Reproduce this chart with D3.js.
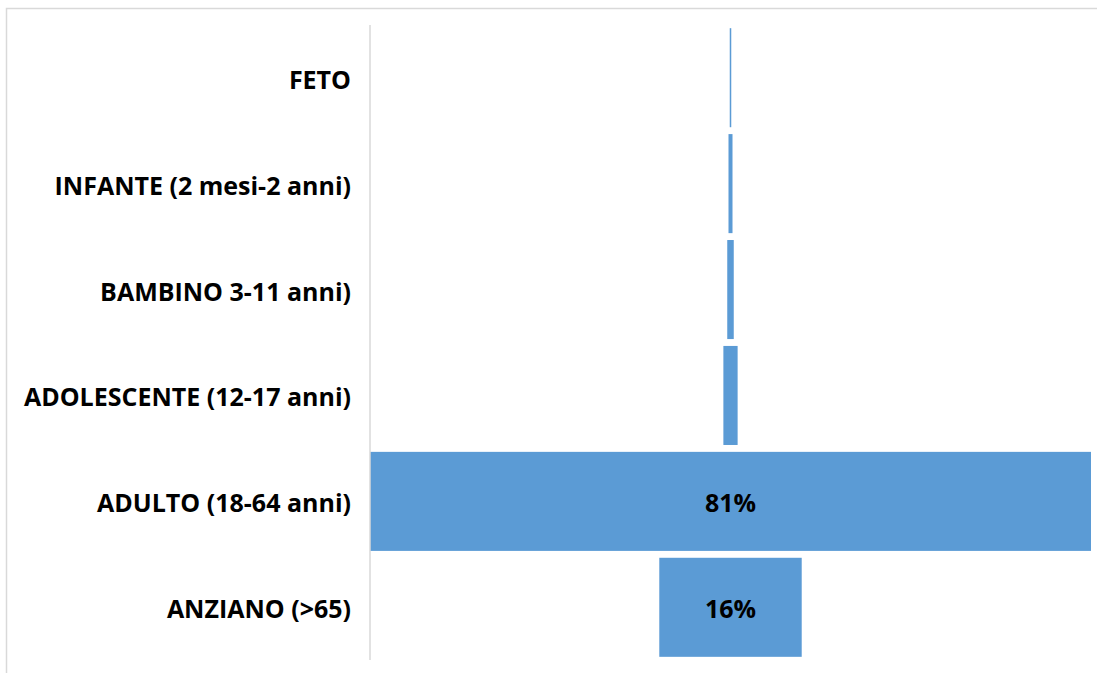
<!DOCTYPE html>
<html>
<head>
<meta charset="utf-8">
<script src="https://cdn.jsdelivr.net/npm/d3@7"></script>
<style>
  html, body { margin: 0; padding: 0; background: #fff; }
  svg { display: block; }
</style>
</head>
<body>
<svg id="chart" width="1097" height="673"></svg>
<script>
// Age groups, top to bottom
const categories = [
  "FETO",
  "INFANTE (2 mesi-2 anni)",
  "BAMBINO 3-11 anni)",
  "ADOLESCENTE (12-17 anni)",
  "ADULTO (18-64 anni)",
  "ANZIANO (>65)"
];
// Share of cases per group (%)
const values = [0.17, 0.45, 0.73, 1.6, 81, 16];
// Data labels shown on the bars
const valueLabels = ["", "", "", "", "81%", "16%"];

const svg = d3.select("#chart");
const W = 1097, H = 673;
const FONT = "'Open Sans', Lato, sans-serif";

// chart frame
svg.append("rect")
  .attr("x", 6.5).attr("y", 8.5)
  .attr("width", W + 10).attr("height", H + 10)
  .attr("fill", "none")
  .attr("stroke", "#d9d9d9")
  .attr("stroke-width", 1.5);

const plot = { left: 370, right: 1091, top: 25, bottom: 660 };
const center = (plot.left + plot.right) / 2;

const y = d3.scaleBand()
  .domain(categories)
  .range([plot.top, plot.bottom])
  .paddingInner(0.065)
  .paddingOuter(0.03);

const w = d3.scaleLinear()
  .domain([0, d3.max(values)])
  .range([0, plot.right - plot.left]);

const rows = categories.map((c, i) => ({ cat: c, v: values[i], lab: valueLabels[i] }));

// funnel bars, centred on the plot area
svg.append("g").selectAll("rect")
  .data(rows)
  .join("rect")
  .attr("x", d => center - w(d.v) / 2)
  .attr("y", d => y(d.cat))
  .attr("width", d => w(d.v))
  .attr("height", y.bandwidth())
  .attr("fill", "#5b9bd5");

// category axis
const axis = d3.axisLeft(y).tickSize(0).tickPadding(19);
const gAxis = svg.append("g")
  .attr("transform", `translate(${plot.left},0)`)
  .call(axis);
gAxis.select(".domain")
  .attr("d", `M0,${plot.top}V${plot.bottom}`)
  .attr("stroke", "#d9d9d9")
  .attr("stroke-width", 1.5);
gAxis.selectAll("text")
  .attr("font-family", FONT)
  .attr("font-weight", "bold")
  .attr("font-size", 25)
  .attr("fill", "#000")
  .attr("dy", "0.44em");

// value labels
svg.append("g").selectAll("text")
  .data(rows.filter(d => d.lab))
  .join("text")
  .attr("x", center)
  .attr("y", d => y(d.cat) + y.bandwidth() / 2)
  .attr("dy", "0.42em")
  .attr("text-anchor", "middle")
  .attr("font-family", FONT)
  .attr("font-weight", "bold")
  .attr("font-size", 25)
  .attr("fill", "#000")
  .text(d => d.lab);
</script>
</body>
</html>
